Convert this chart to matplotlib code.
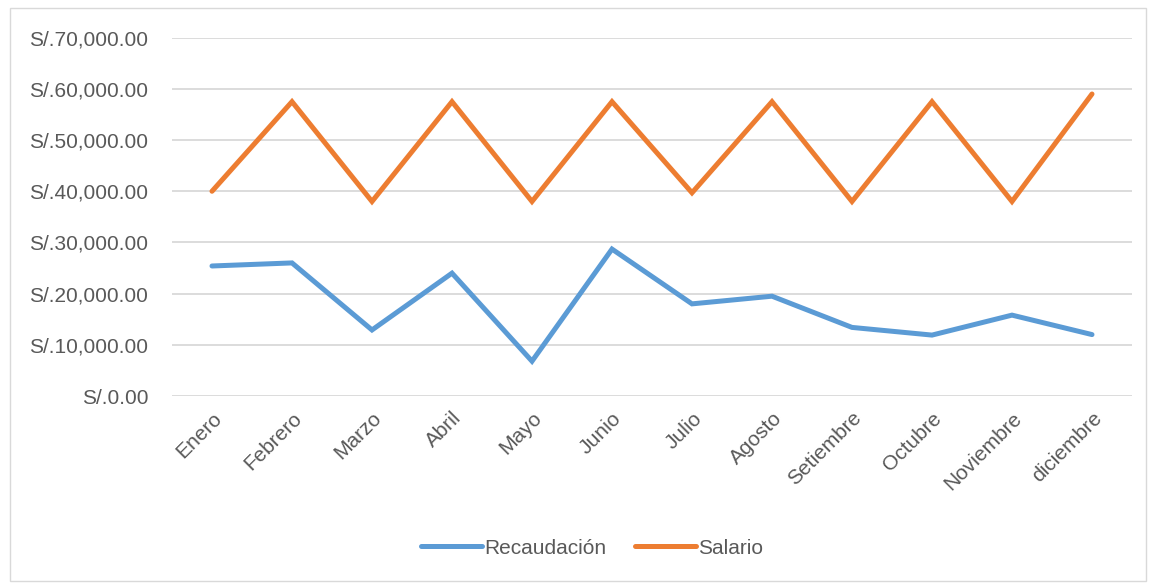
import matplotlib
matplotlib.use("Agg")
import matplotlib.pyplot as plt
from matplotlib.ticker import FuncFormatter
from matplotlib.patches import Rectangle

meses = ["Enero", "Febrero", "Marzo", "Abril", "Mayo", "Junio", "Julio",
         "Agosto", "Setiembre", "Octubre", "Noviembre", "diciembre"]
recaudacion = [25400, 26000, 12900, 24000, 6800, 28700, 18000, 19500,
               13400, 11900, 15800, 12000]
salario = [40000, 57500, 38000, 57500, 38000, 57500, 39700, 57500,
           38000, 57500, 38000, 59000]
yticks = [0, 10000, 20000, 30000, 40000, 50000, 60000, 70000]

plt.rcParams['font.family'] = ['Liberation Sans', 'DejaVu Sans']
txt = '#595959'

fig = plt.figure(figsize=(11.54, 5.83), dpi=100)
ax = fig.add_axes([172/1154, 1-396/583, 960/1154, (396-37.7)/583])

x = list(range(len(meses)))
ax.plot(x, recaudacion, color='#5B9BD5', lw=3.6, solid_capstyle='round',
        solid_joinstyle='miter', label='Recaudación', zorder=3)
ax.plot(x, salario, color='#ED7D31', lw=3.6, solid_capstyle='round',
        solid_joinstyle='miter', label='Salario', zorder=3)

ax.set_xlim(-0.5, len(meses) - 0.5)
ax.set_ylim(0, 70000)
ax.set_yticks(yticks)
ax.yaxis.set_major_formatter(FuncFormatter(lambda v, p: "S/.{:,.2f}".format(v)))
ax.set_xticks(x)
ax.set_xticklabels(meses, rotation=45, ha='right', va='top', rotation_mode='anchor')
ax.tick_params(axis='both', length=0, labelsize=15, colors=txt)
ax.tick_params(axis='y', pad=17)
ax.tick_params(axis='x', pad=9)
ax.grid(axis='y', color='#D9D9D9', lw=1.3)
ax.set_axisbelow(True)
for s in ax.spines.values():
    s.set_visible(False)

leg = fig.legend(loc='center', bbox_to_anchor=(592/1154, 1-548/583), ncol=2,
                 frameon=False, fontsize=15, handlelength=2.9, handletextpad=0.1,
                 columnspacing=1.4)
for t in leg.get_texts():
    t.set_color(txt)

fig.patches.append(Rectangle((10/1154, 2/583), 1136/1154, 1-10/583,
                             transform=fig.transFigure, fill=False,
                             edgecolor='#D9D9D9', lw=1))

fig.savefig('out.png', dpi=100, facecolor='white')
